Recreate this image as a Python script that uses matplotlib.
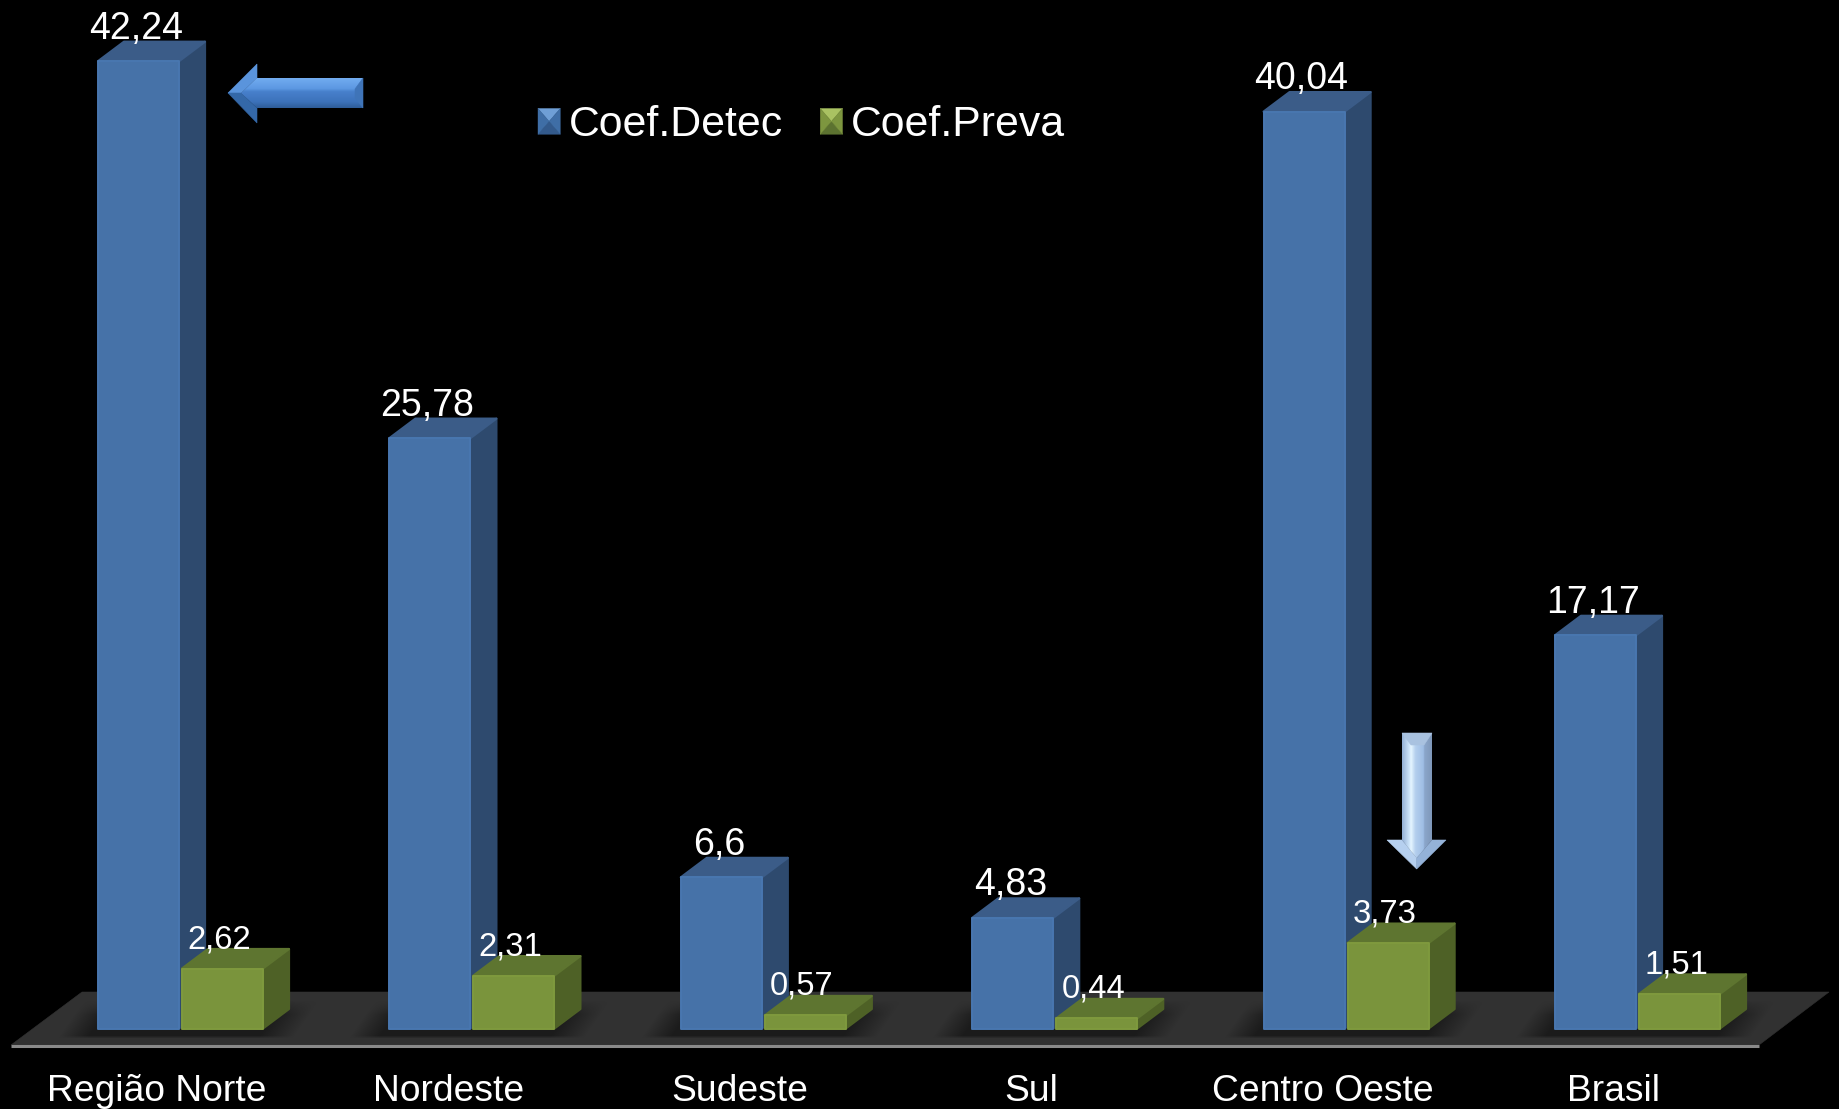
import numpy as np
import matplotlib
matplotlib.use('Agg')
import matplotlib.pyplot as plt
from matplotlib.collections import PolyCollection
from matplotlib.patches import Patch, Polygon

categories = ['Região Norte', 'Nordeste', 'Sudeste', 'Sul', 'Centro Oeste', 'Brasil']
coef_detec = [42.24, 25.78, 6.6, 4.83, 40.04, 17.17]
coef_preva = [2.62, 2.31, 0.57, 0.44, 3.73, 1.51]
detec_labels = ['42,24', '25,78', '6,6', '4,83', '40,04', '17,17']
preva_labels = ['2,62', '2,31', '0,57', '0,44', '3,73', '1,51']

W, H = 1839, 1109
X0, DX = 98.0, 291.4     # pixel position of the first bar, spacing of the groups
Y0, DY = 1028.5, 22.9    # pixel position of zero, pixels per unit
AX_BOTTOM = 1060

plt.rcParams['font.family'] = ['Liberation Sans', 'DejaVu Sans']


def px_x(x):
    return (np.asarray(x, dtype=float) - X0) / DX


def px_y(y):
    return (Y0 - np.asarray(y, dtype=float)) / DY


def px_pts(pts):
    return [(px_x(a), px_y(b)) for a, b in pts]


BAR_W = 81 / DX
DEPTH_X = 26 / DX
DEPTH_Y = 19.5 / DY

BLUE = ('#4672a8', '#3b5c88', '#2e4a6e', '#4977b0')
GREEN = ('#7a943c', '#5e7530', '#4e6126', '#7f9a3e')


def bars_3d(ax, xs, values, cols):
    # front faces come from ax.bar, the top and side are added as polygons
    front, top, side, edge = cols
    for x, v in zip(xs, values):
        ax.add_patch(Polygon([(x + BAR_W, 0), (x + BAR_W + DEPTH_X, DEPTH_Y), (x + BAR_W + DEPTH_X, v + DEPTH_Y), (x + BAR_W, v)],
                             closed=True, fc=side, ec=side, lw=1.6, joinstyle='round', zorder=5))
        ax.add_patch(Polygon([(x, v), (x + BAR_W, v), (x + BAR_W + DEPTH_X, v + DEPTH_Y), (x + DEPTH_X, v + DEPTH_Y)],
                             closed=True, fc=top, ec=top, lw=1.6, joinstyle='round', zorder=5))
        b = ax.bar(x, v, BAR_W, align='edge', color=front, edgecolor=edge, linewidth=1.4, zorder=5)
        b[0].set_joinstyle('round')


def gradient_poly(ax, pts, stops, horizontal=True, zorder=8):
    # fill a polygon (pixel points) with a linear gradient between colour stops
    pts = np.array(pts, dtype=float)
    x1, y1 = pts.min(axis=0)
    x2, y2 = pts.max(axis=0)
    pos = [s[0] for s in stops]
    rgb = np.array([matplotlib.colors.to_rgb(s[1]) for s in stops])
    t = np.linspace(0, 1, 128)
    grad = np.stack([np.interp(t, pos, rgb[:, i]) for i in range(3)], axis=-1)
    img = grad[np.newaxis, :, :] if horizontal else grad[:, np.newaxis, :]
    im = ax.imshow(img, extent=(px_x(x1), px_x(x2), px_y(y2), px_y(y1)), origin='upper',
                   aspect='auto', interpolation='bilinear', zorder=zorder)
    clip = Polygon(px_pts(pts), closed=True, transform=ax.transData)
    im.set_clip_path(clip)


def flat_poly(ax, pts, col, zorder=8):
    ax.add_patch(Polygon(px_pts(pts), closed=True, fc=col, ec=col, lw=0.4, zorder=zorder))


class BevelHandler:
    # legend key drawn as a small bevelled square
    def __init__(self, cols):
        self.cols = cols

    def legend_artist(self, legend, orig_handle, fontsize, handlebox):
        x, y = handlebox.xdescent, handlebox.ydescent + 2.5
        w, h = handlebox.width, handlebox.height
        cx, cy = x + w / 2, y + h / 2
        a = [(x, y + h), (x + w, y + h), (cx, cy)]
        b = [(x, y), (x + w, y), (cx, cy)]
        c = [(x, y), (x, y + h), (cx, cy)]
        d = [(x + w, y), (x + w, y + h), (cx, cy)]
        col = PolyCollection([a, b, c, d], facecolors=self.cols, edgecolors=self.cols, linewidths=0.3,
                             transform=handlebox.get_transform())
        handlebox.add_artist(col)
        return col


fig = plt.figure(figsize=(W / 100, H / 100), dpi=100, facecolor='black')
ax = fig.add_axes([0, 1 - AX_BOTTOM / H, 1, AX_BOTTOM / H])
ax.set_facecolor('black')

xs = np.arange(len(categories), dtype=float)

# floor under the bars
flat_poly(ax, [(11, 1045), (82, 992), (1829, 992), (1759, 1045)], '#313131', zorder=1)
ax.plot(px_x([11, 1759]), px_y([1045.5, 1045.5]), color='#8a8a8a', lw=2.2, zorder=2, solid_capstyle='butt')

# soft slanted shadows on the floor
for i in range(len(categories)):
    sx = X0 + DX * i
    gx, gy = np.meshgrid(np.arange(sx - 50, sx + 260), np.arange(996, 1039))
    slant = (1037 - gy) * 0.7
    left = np.clip((gx - (sx - 40 + slant)) / 30.0, 0, 1)
    right = np.clip(((sx + 195 + slant) - gx) / 35.0, 0, 1)
    top = np.clip((gy - 1000) / 14.0, 0, 1)
    bottom = np.clip((1038 - gy) / 3.0, 0, 1)
    rgba = np.zeros(gx.shape + (4,))
    rgba[..., 3] = left * right * top * bottom * 0.45
    ax.imshow(rgba, extent=(px_x(sx - 50), px_x(sx + 260), px_y(1039), px_y(996)), origin='upper',
              aspect='auto', zorder=3)

bars_3d(ax, xs, coef_detec, BLUE)
bars_3d(ax, xs + (84 / DX), coef_preva, GREEN)

# value labels above each bar
for x, v, t in zip(xs, coef_detec, detec_labels):
    ax.text(x + 38 / DX, v + DEPTH_Y + 3 / DY, t, color='white', fontsize=27, ha='center', va='baseline', zorder=10)
for x, v, t in zip(xs, coef_preva, preva_labels):
    ax.text(x + 121 / DX, v + DEPTH_Y + 1 / DY, t, color='white', fontsize=23.6, ha='center', va='baseline', zorder=10)

# left arrow pointing at the first bar
flat_poly(ax, [(228, 93), (257, 64), (257, 78), (241, 93)], '#5a94dc')
flat_poly(ax, [(228, 93), (257, 123), (257, 108), (241, 93)], '#3468a8')
gradient_poly(ax, [(241, 93), (257, 78), (363, 78), (363, 108), (257, 108)],
              [(0, '#72acf0'), (0.35, '#5c98e2'), (0.45, '#4880cc'), (0.8, '#3c72ba'), (1, '#2e5c98')], horizontal=False)
flat_poly(ax, [(355, 89), (363, 78), (363, 108), (355, 98)], '#3f74b8')

# down arrow pointing at the Centro Oeste bar
flat_poly(ax, [(1387, 840), (1402, 840), (1416.7, 858), (1416.7, 869)], '#b6d0ef')
flat_poly(ax, [(1446, 840), (1432, 840), (1416.7, 858), (1416.7, 869)], '#94b2d8')
gradient_poly(ax, [(1402, 733), (1432, 733), (1432, 840), (1416.7, 858), (1402, 840)],
              [(0, '#94b0d6'), (0.25, '#cfe6fb'), (0.3, '#e6f6ff'), (0.45, '#b4cfee'), (0.72, '#9ebde4'), (0.75, '#8ba6cb'), (1, '#7f98ba')])
flat_poly(ax, [(1402, 733), (1432, 733), (1424, 745), (1411, 745)], '#a9c2e0')

ax.set_xlim(px_x(0), px_x(W))
ax.set_ylim(px_y(AX_BOTTOM), px_y(0))
ax.set_xticks(xs + 59 / DX)
ax.set_xticklabels(categories, color='white', fontsize=26.8)
ax.tick_params(axis='x', length=0, pad=10)
ax.set_yticks([])
for s in ax.spines.values():
    s.set_visible(False)

h1 = Patch(color=BLUE[0])
h2 = Patch(color=GREEN[0])
leg = ax.legend([h1, h2], ['Coef.Detec', 'Coef.Preva'], ncol=2, frameon=False, fontsize=30.8, labelcolor='white',
                handlelength=0.52, handleheight=0.55, handletextpad=0.2, columnspacing=0.87, borderpad=0, borderaxespad=0,
                loc='center left', bbox_to_anchor=(538 / W, 1 - 124.5 / AX_BOTTOM),
                handler_map={h1: BevelHandler(['#6f9fd6', '#335a8c', '#3f6ea6', '#3f6ea6']),
                             h2: BevelHandler(['#a9c262', '#5c7230', '#7d963f', '#7d963f'])})

fig.savefig('out.png', dpi=100, facecolor='black')
